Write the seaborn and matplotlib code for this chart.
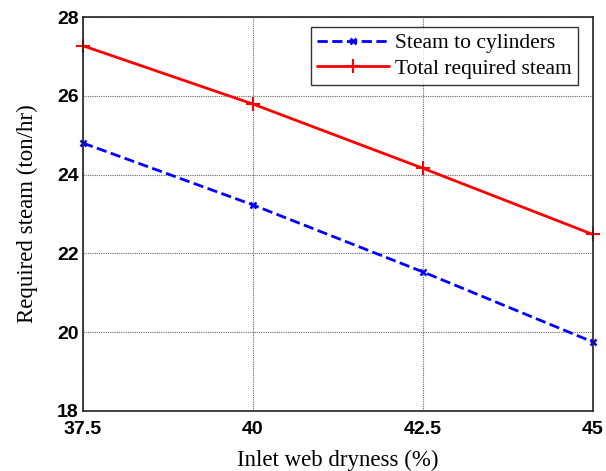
import matplotlib
matplotlib.use("Agg")
import matplotlib.pyplot as plt
import seaborn as sns
import pandas as pd

dryness = [37.5, 40, 42.5, 45]
steam_cyl = [24.80, 23.23, 21.53, 19.75]
steam_total = [27.27, 25.79, 24.16, 22.48]
xticks = [37.5, 40, 42.5, 45]
xtick_labels = ["37.5", "40", "42.5", "45"]
yticks = [18, 20, 22, 24, 26, 28]

sns.set_style("white")
fig = plt.figure(figsize=(6.06, 4.71), dpi=100)
ax = fig.add_axes([0.137, 0.1274, 0.8415, 0.8365])

df = pd.DataFrame({"x": dryness, "cyl": steam_cyl, "tot": steam_total})
sns.lineplot(data=df, x="x", y="cyl", ax=ax, color="blue", linestyle="--",
             linewidth=2, marker="x", markersize=4, markeredgewidth=1.8,
             markeredgecolor="blue", markerfacecolor="blue", clip_on=False,
             label="Steam to cylinders")
sns.lineplot(data=df, x="x", y="tot", ax=ax, color="red", linestyle="-",
             linewidth=2, marker="+", markersize=10, markeredgewidth=1.5,
             markeredgecolor="red", markerfacecolor="red", clip_on=False,
             label="Total required steam")

ax.set_xlim(37.5, 45)
ax.set_ylim(18, 28)
ax.set_xticks(xticks)
ax.set_xticklabels(xtick_labels)
ax.set_yticks(yticks)
for lab in ax.get_xticklabels() + ax.get_yticklabels():
    lab.set_fontfamily("Liberation Sans")
    lab.set_fontweight("bold")
    lab.set_fontsize(14)
    lab.set_color("black")
ax.tick_params(axis="both", direction="in", length=4, pad=3, color="black")
ax.tick_params(axis="x", pad=7)
ax.grid(True, color="#666666", linestyle=(0, (1, 1)), linewidth=0.8)
for s in ax.spines.values():
    s.set_color("#222222")
    s.set_linewidth(1.2)

ax.set_xlabel("Inlet web dryness (%)", fontfamily="Liberation Serif", fontsize=16.5,
              labelpad=9, color="black")
ax.set_ylabel("Required steam (ton/hr)", fontfamily="Liberation Serif", fontsize=16.5,
              labelpad=14, color="black")

leg = ax.legend(loc="upper right", prop={"family": "Liberation Serif", "size": 15.5},
                frameon=True, fancybox=False, edgecolor="black", handlelength=3.3,
                borderpad=0.3, labelspacing=0.25, handletextpad=0.3,
                borderaxespad=0, bbox_to_anchor=(0.971, 0.975))
leg.get_frame().set_linewidth(1.0)
for t in leg.get_texts():
    t.set_color("black")

fig.savefig("out.png", dpi=100)
